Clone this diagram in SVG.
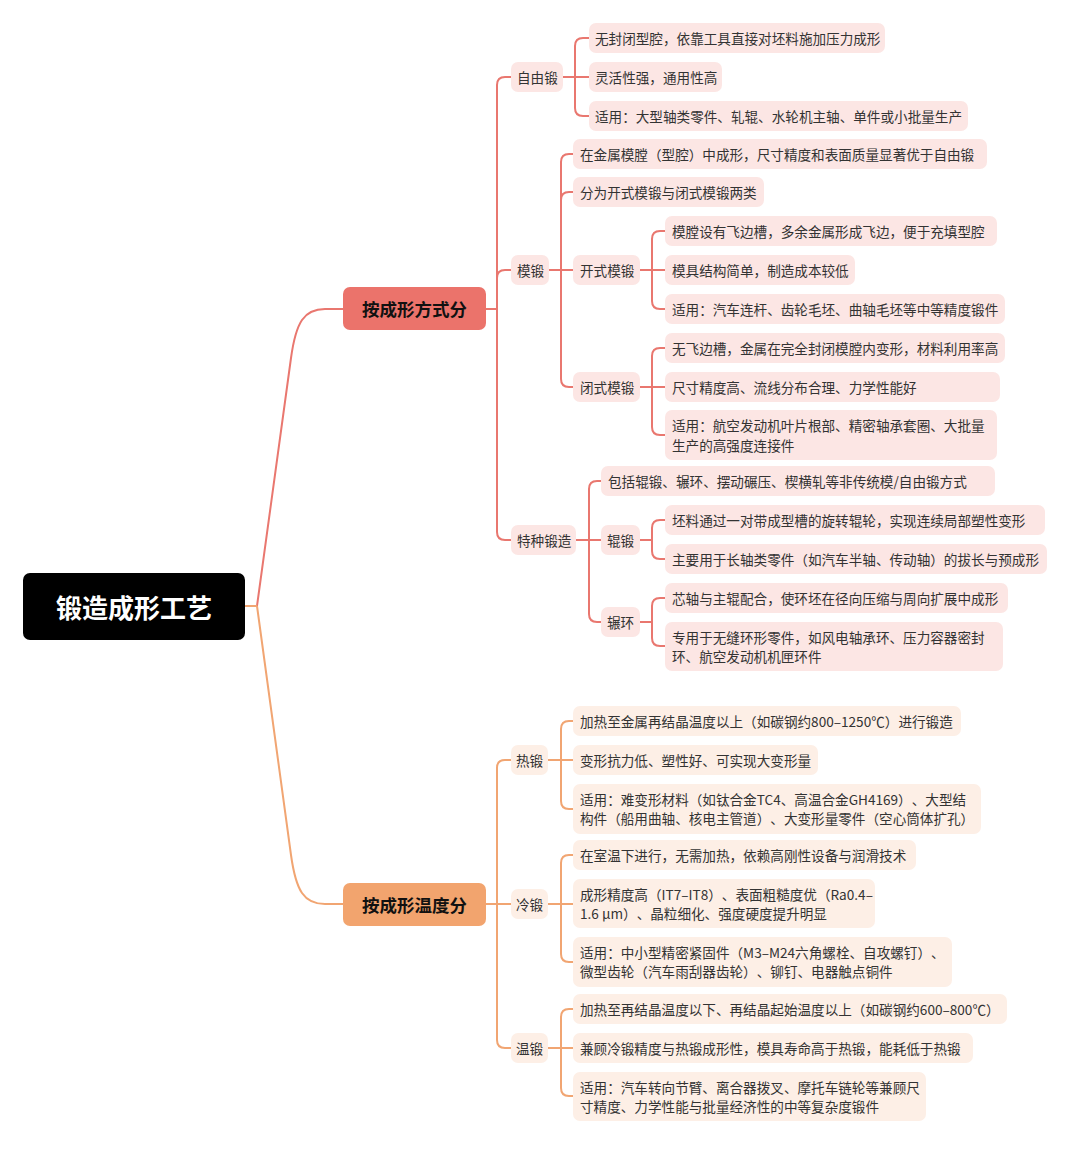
<svg xmlns="http://www.w3.org/2000/svg" width="1080" height="1176" viewBox="0 0 1080 1176">
<style>
.t{font-family:"Noto Sans CJK SC","Noto Sans",sans-serif;font-size:13.6px;fill:#333;dominant-baseline:central;text-spacing-trim:space-all}
.u{fill:#FCE6E4}
.o{fill:#FDEFE6}
.lu{fill:none;stroke:#E9776F;stroke-width:2}
.lo{fill:none;stroke:#F1A572;stroke-width:2}
.h1{font-family:"Noto Sans CJK SC","Noto Sans",sans-serif;font-size:17.5px;font-weight:700;fill:#111;text-anchor:middle;dominant-baseline:central}
</style>
<rect width="1080" height="1176" fill="#fff"/>
<g id="connectors">
<path class="lu" d="M245,606 H257 L291,358 C296,322 304,309 325,309 H343"/>
<path class="lo" d="M257,606 L291,855 C296,891 304,904 325,904 H343"/>
<path class="lo" d="M245,606 H257"/>
<path class="lu" d="M486,309 H497 M497,309 V85 Q497,77 505,77 H511 M497,309 V278 Q497,270 505,270 H511 M497,309 V532 Q497,540 505,540 H511"/>
<path class="lu" d="M563,77 H589 M575,77 V46 Q575,38 583,38 H589 M575,77 V108 Q575,116 583,116 H589"/>
<path class="lu" d="M549,270 H573 M561,270 V162 Q561,154 569,154 H573 M561,270 V200 Q561,192 569,192 H573 M561,270 V379 Q561,387 569,387 H573"/>
<path class="lu" d="M640,270 H665 M652,270 V239 Q652,231 660,231 H665 M652,270 V301 Q652,309 660,309 H665"/>
<path class="lu" d="M640,387 H665 M652,387 V356 Q652,348 660,348 H665 M652,387 V427 Q652,435 660,435 H665"/>
<path class="lu" d="M576,540 H601 M589,540 V489 Q589,481 597,481 H601 M589,540 V614 Q589,622 597,622 H601"/>
<path class="lu" d="M640,540 H652 M652,540 V528 Q652,520 660,520 H665 M652,540 V551 Q652,559 660,559 H665"/>
<path class="lu" d="M640,622 H652 M652,622 V606 Q652,598 660,598 H665 M652,622 V638 Q652,646 660,646 H665"/>
<path class="lo" d="M486,904 H511 M497,904 V768 Q497,760 505,760 H511 M497,904 V1040 Q497,1048 505,1048 H511"/>
<path class="lo" d="M548,760 H573 M561,760 V729 Q561,721 569,721 H573 M561,760 V801 Q561,809 569,809 H573"/>
<path class="lo" d="M548,904 H573 M561,904 V863 Q561,855 569,855 H573 M561,904 V954 Q561,962 569,962 H573"/>
<path class="lo" d="M548,1048 H573 M561,1048 V1017 Q561,1009 569,1009 H573 M561,1048 V1088 Q561,1096 569,1096 H573"/>
</g>

<g id="root"><rect x="23" y="573" width="222" height="67" rx="7" fill="#000"/><text x="134" y="606" font-family="'Noto Sans CJK SC','Noto Sans',sans-serif" font-size="26" font-weight="700" fill="#fff" text-anchor="middle" dominant-baseline="central">锻造成形工艺</text></g>

<g id="n-fangshi"><rect x="343" y="287" width="143" height="43" rx="7" fill="#EB736B"/><text class="h1" x="414.5" y="308">按成形方式分</text></g>
<g id="n-wendu"><rect x="343" y="883" width="143" height="43" rx="7" fill="#F2A46E"/><text class="h1" x="414.5" y="904">按成形温度分</text></g>

<g id="n-ziyou"><rect class="u" x="511" y="62" width="52" height="30" rx="7"/><text class="t" x="517" y="76.5">自由锻</text></g>
<g id="n-moduan"><rect class="u" x="511" y="255" width="38" height="30" rx="7"/><text class="t" x="517" y="269.5">模锻</text></g>
<g id="n-tezhong"><rect class="u" x="511" y="525" width="65" height="30" rx="7"/><text class="t" x="517" y="539.5">特种锻造</text></g>

<g id="n-zy1"><rect class="u" x="589" y="23" width="296" height="30" rx="7"/><text class="t" x="595" y="37.5">无封闭型腔，依靠工具直接对坯料施加压力成形</text></g>
<g id="n-zy2"><rect class="u" x="589" y="62" width="133" height="30" rx="7"/><text class="t" x="595" y="76.5">灵活性强，通用性高</text></g>
<g id="n-zy3"><rect class="u" x="589" y="101" width="379" height="30" rx="7"/><text class="t" x="595" y="115.5">适用：大型轴类零件、轧辊、水轮机主轴、单件或小批量生产</text></g>

<g id="n-md1"><rect class="u" x="573" y="139" width="414" height="30" rx="7"/><text class="t" x="580" y="153.5">在金属模膛（型腔）中成形，尺寸精度和表面质量显著优于自由锻</text></g>
<g id="n-md2"><rect class="u" x="573" y="177" width="191" height="30" rx="7"/><text class="t" x="580" y="191.5">分为开式模锻与闭式模锻两类</text></g>
<g id="n-kaishi"><rect class="u" x="573" y="255" width="67" height="30" rx="7"/><text class="t" x="580" y="269.5">开式模锻</text></g>
<g id="n-bishi"><rect class="u" x="573" y="372" width="67" height="30" rx="7"/><text class="t" x="580" y="386.5">闭式模锻</text></g>

<g id="n-ks1"><rect class="u" x="665" y="216" width="332" height="30" rx="7"/><text class="t" x="672" y="230.5">模膛设有飞边槽，多余金属形成飞边，便于充填型腔</text></g>
<g id="n-ks2"><rect class="u" x="665" y="255" width="190" height="30" rx="7"/><text class="t" x="672" y="269.5">模具结构简单，制造成本较低</text></g>
<g id="n-ks3"><rect class="u" x="665" y="294" width="340" height="30" rx="7"/><text class="t" x="672" y="308.5">适用：汽车连杆、齿轮毛坯、曲轴毛坯等中等精度锻件</text></g>

<g id="n-bs1"><rect class="u" x="665" y="333" width="340" height="30" rx="7"/><text class="t" x="672" y="347.5">无飞边槽，金属在完全封闭模膛内变形，材料利用率高</text></g>
<g id="n-bs2"><rect class="u" x="665" y="372" width="335" height="30" rx="7"/><text class="t" x="672" y="386.5">尺寸精度高、流线分布合理、力学性能好</text></g>
<g id="n-bs3"><rect class="u" x="665" y="410" width="332" height="50" rx="7"/><text class="t" x="672" y="425">适用：航空发动机叶片根部、精密轴承套圈、大批量<tspan x="672" y="444.5">生产的高强度连接件</tspan></text></g>

<g id="n-tz1"><rect class="u" x="601" y="466" width="394" height="30" rx="7"/><text class="t" x="608" y="480.5">包括辊锻、辗环、摆动碾压、楔横轧等非传统模/自由锻方式</text></g>
<g id="n-gunduan"><rect class="u" x="601" y="525" width="39" height="30" rx="7"/><text class="t" x="607" y="539.5">辊锻</text></g>
<g id="n-nianhuan"><rect class="u" x="601" y="607" width="39" height="30" rx="7"/><text class="t" x="607" y="621.5">辗环</text></g>

<g id="n-gd1"><rect class="u" x="665" y="505" width="380" height="30" rx="7"/><text class="t" x="672" y="519.5">坯料通过一对带成型槽的旋转辊轮，实现连续局部塑性变形</text></g>
<g id="n-gd2"><rect class="u" x="665" y="544" width="382" height="30" rx="7"/><text class="t" x="672" y="558.5">主要用于长轴类零件（如汽车半轴、传动轴）的拔长与预成形</text></g>
<g id="n-nh1"><rect class="u" x="665" y="583" width="343" height="30" rx="7"/><text class="t" x="672" y="597.5">芯轴与主辊配合，使环坯在径向压缩与周向扩展中成形</text></g>
<g id="n-nh2"><rect class="u" x="665" y="622" width="338" height="49" rx="7"/><text class="t" x="672" y="636.5">专用于无缝环形零件，如风电轴承环、压力容器密封<tspan x="672" y="655.5">环、航空发动机机匣环件</tspan></text></g>

<g id="n-reduan"><rect class="o" x="511" y="745" width="37" height="30" rx="7"/><text class="t" x="516" y="759.5">热锻</text></g>
<g id="n-lengduan"><rect class="o" x="511" y="889" width="37" height="30" rx="7"/><text class="t" x="516" y="903.5">冷锻</text></g>
<g id="n-wenduan"><rect class="o" x="511" y="1033" width="37" height="30" rx="7"/><text class="t" x="516" y="1047.5">温锻</text></g>

<g id="n-rd1"><rect class="o" x="573" y="706" width="388" height="30" rx="7"/><text class="t" x="580" y="720.5">加热至金属再结晶温度以上（如碳钢约800–1250℃）进行锻造</text></g>
<g id="n-rd2"><rect class="o" x="573" y="745" width="245" height="30" rx="7"/><text class="t" x="580" y="759.5">变形抗力低、塑性好、可实现大变形量</text></g>
<g id="n-rd3"><rect class="o" x="573" y="784" width="408" height="50" rx="7"/><text class="t" x="580" y="798.5">适用：难变形材料（如钛合金TC4、高温合金GH4169）、大型结<tspan x="580" y="818">构件（船用曲轴、核电主管道）、大变形量零件（空心筒体扩孔）</tspan></text></g>

<g id="n-ld1"><rect class="o" x="573" y="840" width="343" height="30" rx="7"/><text class="t" x="580" y="854.5">在室温下进行，无需加热，依赖高刚性设备与润滑技术</text></g>
<g id="n-ld2"><rect class="o" x="573" y="879" width="302" height="49" rx="7"/><text class="t" x="580" y="893.5">成形精度高（IT7–IT8）、表面粗糙度优（Ra0.4–<tspan x="580" y="913">1.6 μm）、晶粒细化、强度硬度提升明显</tspan></text></g>
<g id="n-ld3"><rect class="o" x="573" y="937" width="379" height="50" rx="7"/><text class="t" x="580" y="951.5">适用：中小型精密紧固件（M3–M24六角螺栓、自攻螺钉）、<tspan x="580" y="971">微型齿轮（汽车雨刮器齿轮）、铆钉、电器触点铜件</tspan></text></g>

<g id="n-wd1"><rect class="o" x="573" y="994" width="434" height="30" rx="7"/><text class="t" x="580" y="1008.5">加热至再结晶温度以下、再结晶起始温度以上（如碳钢约600–800℃）</text></g>
<g id="n-wd2"><rect class="o" x="573" y="1033" width="400" height="30" rx="7"/><text class="t" x="580" y="1047.5">兼顾冷锻精度与热锻成形性，模具寿命高于热锻，能耗低于热锻</text></g>
<g id="n-wd3"><rect class="o" x="573" y="1072" width="353" height="49" rx="7"/><text class="t" x="580" y="1086.5">适用：汽车转向节臂、离合器拨叉、摩托车链轮等兼顾尺<tspan x="580" y="1106">寸精度、力学性能与批量经济性的中等复杂度锻件</tspan></text></g>
</svg>
